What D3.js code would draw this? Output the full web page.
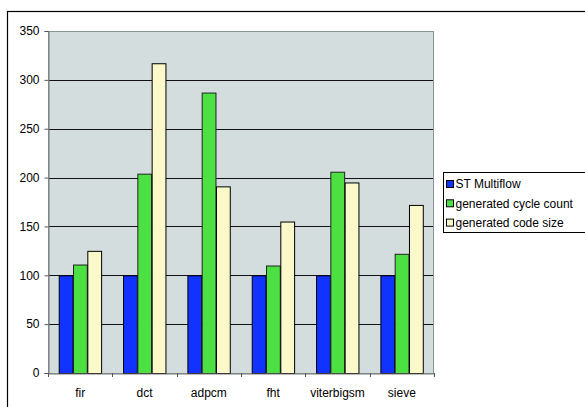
<!DOCTYPE html>
<html><head><meta charset="utf-8">
<script src="https://cdn.jsdelivr.net/npm/d3@7"></script>
<style>body{margin:0;background:#fff}svg{display:block}</style>
</head><body>
<svg id="c" width="585" height="407"></svg>
<script>
const categories = ["fir","dct","adpcm","fht","viterbigsm","sieve"];
const seriesNames = ["ST Multiflow","generated cycle count","generated code size"];
const stMultiflow = [100,100,100,100,100,100];
const cycleCount = [111,204,287,110,206,122];
const codeSize = [125,317,191,155,195,172];
const yTicks = [0,50,100,150,200,250,300,350];
const colors = ["#1133ff","#4de042","#fbf9c9"];
const series = [stMultiflow, cycleCount, codeSize];

const svg = d3.select("#c");
const font = "'Liberation Sans', Arial, sans-serif";
// outer frame
svg.append("rect").attr("x",7.5).attr("y",11.5).attr("width",600).attr("height",420)
  .attr("fill","#fff").attr("stroke","#000").attr("stroke-width",1.2);

const L=48, R=434, T=31, B=373;
const x = d3.scaleBand().domain(categories).range([L,R]).paddingInner(0).paddingOuter(0);
const y = d3.scaleLinear().domain([0,350]).range([B,T]);
const inner = d3.scaleBand().domain(d3.range(3)).range([0,x.bandwidth()]).paddingInner(0).paddingOuter(0.75);

svg.append("rect").attr("x",L).attr("y",T).attr("width",R-L).attr("height",B-T).attr("fill","#d3dddd");
// gridlines
svg.append("g").selectAll("line").data(yTicks.filter(d=>d>0&&d<350)).join("line")
  .attr("x1",L).attr("x2",R).attr("y1",d=>Math.round(y(d))+0.5).attr("y2",d=>Math.round(y(d))+0.5)
  .attr("stroke","#111").attr("stroke-width",1);
// plot border
svg.append("rect").attr("x",L+0.5).attr("y",T+0.5).attr("width",R-L-1).attr("height",B-T)
  .attr("fill","none").attr("stroke","#8a9494").attr("stroke-width",1);

// bars
series.forEach((vals,si)=>{
  svg.append("g").selectAll("rect").data(vals).join("rect")
    .attr("x",(d,i)=>x(categories[i])+inner(si)+0.5)
    .attr("y",d=>y(d)+0.5)
    .attr("width",inner.bandwidth()-0.5)
    .attr("height",d=>B-y(d))
    .attr("fill",colors[si]).attr("stroke",si===1?"#222":"#000").attr("stroke-width",1);
});

// y axis
const ya = svg.append("g").attr("transform",`translate(${L+0.5},0)`)
  .call(d3.axisLeft(y).tickValues(yTicks).tickSize(4).tickPadding(5));
ya.select(".domain").attr("stroke","#777");
ya.selectAll(".tick line").attr("stroke","#555");
ya.selectAll("text").attr("font-family",font).attr("font-size",12).attr("fill","#000");
// x axis
const xa = svg.append("g").attr("transform",`translate(0,${B+0.5})`)
  .call(d3.axisBottom(x).tickSize(0).tickPadding(15));
xa.select(".domain").attr("stroke","#777");
xa.selectAll("text").attr("font-family",font).attr("font-size",12).attr("fill","#000");
svg.append("g").selectAll("line").data(categories.concat(["__end"])).join("line")
  .attr("x1",(d,i)=>Math.round(L+i*x.bandwidth())+0.5).attr("x2",(d,i)=>Math.round(L+i*x.bandwidth())+0.5)
  .attr("y1",B).attr("y2",B+4).attr("stroke","#555");

// legend
const lg = svg.append("g");
lg.append("rect").attr("x",443.5).attr("y",172.5).attr("width",200).attr("height",60)
  .attr("fill","#fff").attr("stroke","#000");
seriesNames.forEach((n,i)=>{
  const cy = 184 + i*19.3;
  lg.append("rect").attr("x",446.5).attr("y",cy-3.5).attr("width",7).attr("height",7)
    .attr("fill",colors[i]).attr("stroke","#000");
  lg.append("text").attr("x",455.5).attr("y",cy+4.3).text(n)
    .attr("font-family",font).attr("font-size",12).attr("fill","#000");
});
</script>
</body></html>
